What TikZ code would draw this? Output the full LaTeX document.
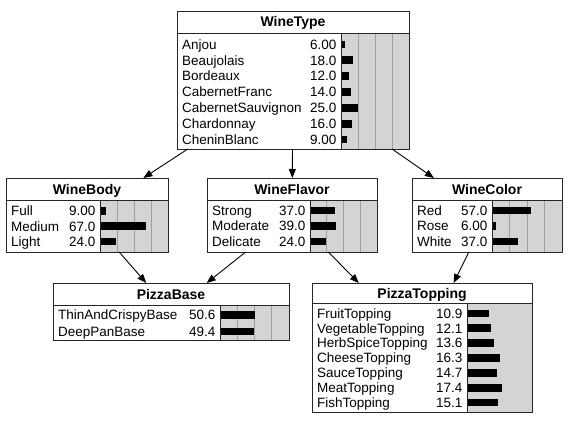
\documentclass[tikz,border=0pt]{standalone}
\usepackage{fontspec}
\setmainfont{Liberation Sans}
\usetikzlibrary{fit,arrows.meta}
\tikzset{
  boxline/.style={draw=black!85, line width=0.9pt},
  varbox/.style={boxline, inner sep=0pt, outer sep=0pt},
  gridline/.style={draw=black!38, line width=0.8pt},
  barbg/.style={fill=black!17},
  lab/.style={inner sep=0pt, font=\fontsize{13.5}{15}\selectfont},
  ttl/.style={inner sep=0pt, font=\fontsize{14}{16}\selectfont\bfseries},
  arr/.style={draw=black, line width=0.9pt, -{Triangle[length=9pt,width=7pt]}},
}
% #1 name #2 L #3 T #4 R #5 B #6 titleB #7 divider #8 title #9 grid (1/0)
\newcommand\netboxbg[9]{%
  \fill[barbg] (#7,#6) rectangle (#4,#5);
  \ifnum#9=1
    \foreach \k in {1,2,3} {\draw[gridline] ({#7+\k*(#4-#7)/4},#6) -- ({#7+\k*(#4-#7)/4},#5);}
  \fi
}
\newcommand\netboxfg[9]{%
  \node[varbox, fit={(#2,#3) (#4,#5)}] (#1) {};
  \draw[boxline] (#2,#6) -- (#4,#6) (#7,#6) -- (#7,#5);
  \node[ttl, anchor=base] (#1-title) at ({(#2+#4)/2},{(#3+#6)/2+5}) {#8};
}
% #1 name #2 L #3 divider #4 first y #5 spacing #6 scale #7 list
\newcommand\netrows[7]{%
  \foreach \lab/\val [count=\i from 0] in {#7}{
    \pgfmathsetmacro\yy{#4+\i*#5}
    \fill[black] (#3,\yy-3.75) rectangle ({#3+\val*#6},\yy+3.75);
    \node[lab, anchor=base west] (#1-l\i) at (#2+5,\yy+4.8) {\lab};
    \node[lab, anchor=base east] (#1-v\i) at (#3-4.5,\yy+4.8) {\val};
  }
}
\begin{document}
\begin{tikzpicture}[x=1pt,y=-1pt]
\useasboundingbox (0,0) rectangle (569,428);
% WineType
\netboxbg{wt}{177}{11}{409}{149}{33}{341}{WineType}{1}
\netrows{wt}{177}{341}{44.3}{15.9}{0.68}{Anjou/6.00,Beaujolais/18.0,Bordeaux/12.0,CabernetFranc/14.0,CabernetSauvignon/25.0,Chardonnay/16.0,CheninBlanc/9.00}
\netboxfg{wt}{177}{11}{409}{149}{33}{341}{WineType}{1}
% WineBody
\netboxbg{wb}{6}{178}{168}{252}{200}{100}{WineBody}{1}
\netrows{wb}{6}{100}{210.8}{15.4}{0.68}{Full/9.00,Medium/67.0,Light/24.0}
\netboxfg{wb}{6}{178}{168}{252}{200}{100}{WineBody}{1}
% WineFlavor
\netboxbg{wf}{207}{178}{377}{252}{200}{310}{WineFlavor}{1}
\netrows{wf}{207}{310}{210.5}{15.6}{0.67}{Strong/37.0,Moderate/39.0,Delicate/24.0}
\netboxfg{wf}{207}{178}{377}{252}{200}{310}{WineFlavor}{1}
% WineColor
\netboxbg{wc}{412}{178}{562}{252}{200}{492}{WineColor}{1}
\netrows{wc}{412}{492}{210.5}{15.4}{0.69}{Red/57.0,Rose/6.00,White/37.0}
\netboxfg{wc}{412}{178}{562}{252}{200}{492}{WineColor}{1}
% PizzaBase
\netboxbg{pb}{53}{283}{289}{340}{305}{220}{PizzaBase}{1}
\netrows{pb}{53}{220}{315}{16.3}{0.69}{ThinAndCrispyBase/50.6,DeepPanBase/49.4}
\netboxfg{pb}{53}{283}{289}{340}{305}{220}{PizzaBase}{1}
% PizzaTopping
\netboxbg{pt}{312}{283}{532}{412}{303}{467}{PizzaTopping}{0}
\netrows{pt}{312}{467}{313.3}{14.9}{2.02}{FruitTopping/10.9,VegetableTopping/12.1,HerbSpiceTopping/13.6,CheeseTopping/16.3,SauceTopping/14.7,MeatTopping/17.4,FishTopping/15.1}
\netboxfg{pt}{312}{283}{532}{412}{303}{467}{PizzaTopping}{0}
% arrows
\draw[arr] (wt) -- (wb);
\draw[arr] (wt) -- (wf);
\draw[arr] (wt) -- (wc);
\draw[arr] (wb) -- (pb);
\draw[arr] (wf) -- (pb);
\draw[arr] (wf) -- (pt);
\draw[arr] (wc) -- (pt);
\end{tikzpicture}
\end{document}
